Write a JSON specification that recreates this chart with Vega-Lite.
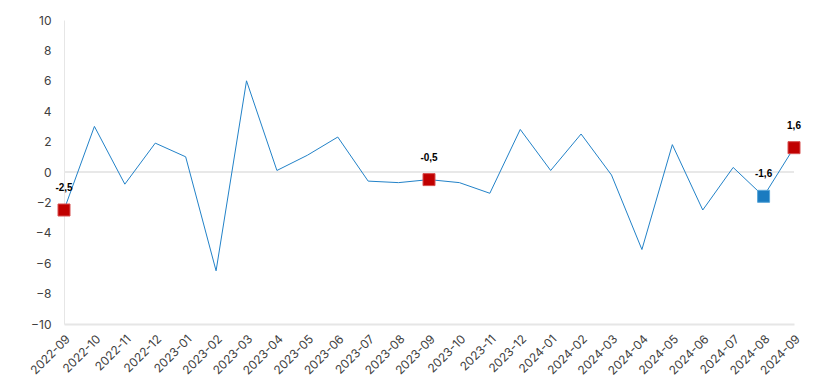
{
  "$schema": "https://vega.github.io/schema/vega-lite/v6.json",
  "width": 730,
  "height": 304,
  "autosize": {"type": "none"},
  "padding": {"left": 64, "top": 20, "right": 31, "bottom": 64},
  "background": "white",
  "config": {
    "view": {"stroke": null},
    "font": "Inter",
    "axis": {"labelFont": "Inter", "labelColor": "#404040", "labelFontSize": 12, "grid": false, "ticks": false, "domainColor": "#e6e6e6"}
  },
  "data": {
    "values": [
      {"month": "2022-09", "value": -2.5, "marker": "A", "label": "-2,5"},
      {"month": "2022-10", "value": 3.0},
      {"month": "2022-11", "value": -0.8},
      {"month": "2022-12", "value": 1.9},
      {"month": "2023-01", "value": 1.0},
      {"month": "2023-02", "value": -6.5},
      {"month": "2023-03", "value": 6.0},
      {"month": "2023-04", "value": 0.1},
      {"month": "2023-05", "value": 1.1},
      {"month": "2023-06", "value": 2.3},
      {"month": "2023-07", "value": -0.6},
      {"month": "2023-08", "value": -0.7},
      {"month": "2023-09", "value": -0.5, "marker": "A", "label": "-0,5"},
      {"month": "2023-10", "value": -0.7},
      {"month": "2023-11", "value": -1.4},
      {"month": "2023-12", "value": 2.8},
      {"month": "2024-01", "value": 0.1},
      {"month": "2024-02", "value": 2.5},
      {"month": "2024-03", "value": -0.2},
      {"month": "2024-04", "value": -5.1},
      {"month": "2024-05", "value": 1.8},
      {"month": "2024-06", "value": -2.5},
      {"month": "2024-07", "value": 0.3},
      {"month": "2024-08", "value": -1.6, "marker": "B", "label": "-1,6"},
      {"month": "2024-09", "value": 1.6, "marker": "A", "label": "1,6"}
    ]
  },
  "encoding": {
    "x": {"field": "month", "type": "ordinal", "scale": {"type": "point", "padding": 0},
          "axis": {"title": null, "labelAngle": -45, "labelPadding": 9, "domainWidth": 2}},
    "y": {"field": "value", "type": "quantitative", "scale": {"domain": [-10, 10], "nice": false},
          "axis": {"title": null, "values": [-10, -8, -6, -4, -2, 0, 2, 4, 6, 8, 10], "labelPadding": 13, "domainWidth": 1}}
  },
  "layer": [
    {
      "mark": {"type": "rule", "color": "#e8e8e8", "strokeWidth": 2},
      "encoding": {"y": {"datum": 0}, "x": null}
    },
    {
      "mark": {"type": "line", "color": "#2282c8", "strokeWidth": 1}
    },
    {
      "transform": [{"filter": "datum.marker != null"}],
      "mark": {"type": "square", "size": 144, "opacity": 1, "strokeWidth": 1},
      "encoding": {
        "color": {"field": "marker", "type": "nominal", "legend": null, "scale": {"domain": ["A", "B"], "range": ["#c00000", "#1a7bc0"]}},
        "stroke": {"field": "marker", "type": "nominal", "legend": null, "scale": {"domain": ["A", "B"], "range": ["#d85050", "#5aa6d8"]}}
      }
    },
    {
      "transform": [{"filter": "datum.marker != null"}],
      "mark": {"type": "text", "dy": -22, "font": "Liberation Sans", "fontWeight": "bold", "fontSize": 10, "color": "#000000"},
      "encoding": {"text": {"field": "label"}}
    }
  ]
}
